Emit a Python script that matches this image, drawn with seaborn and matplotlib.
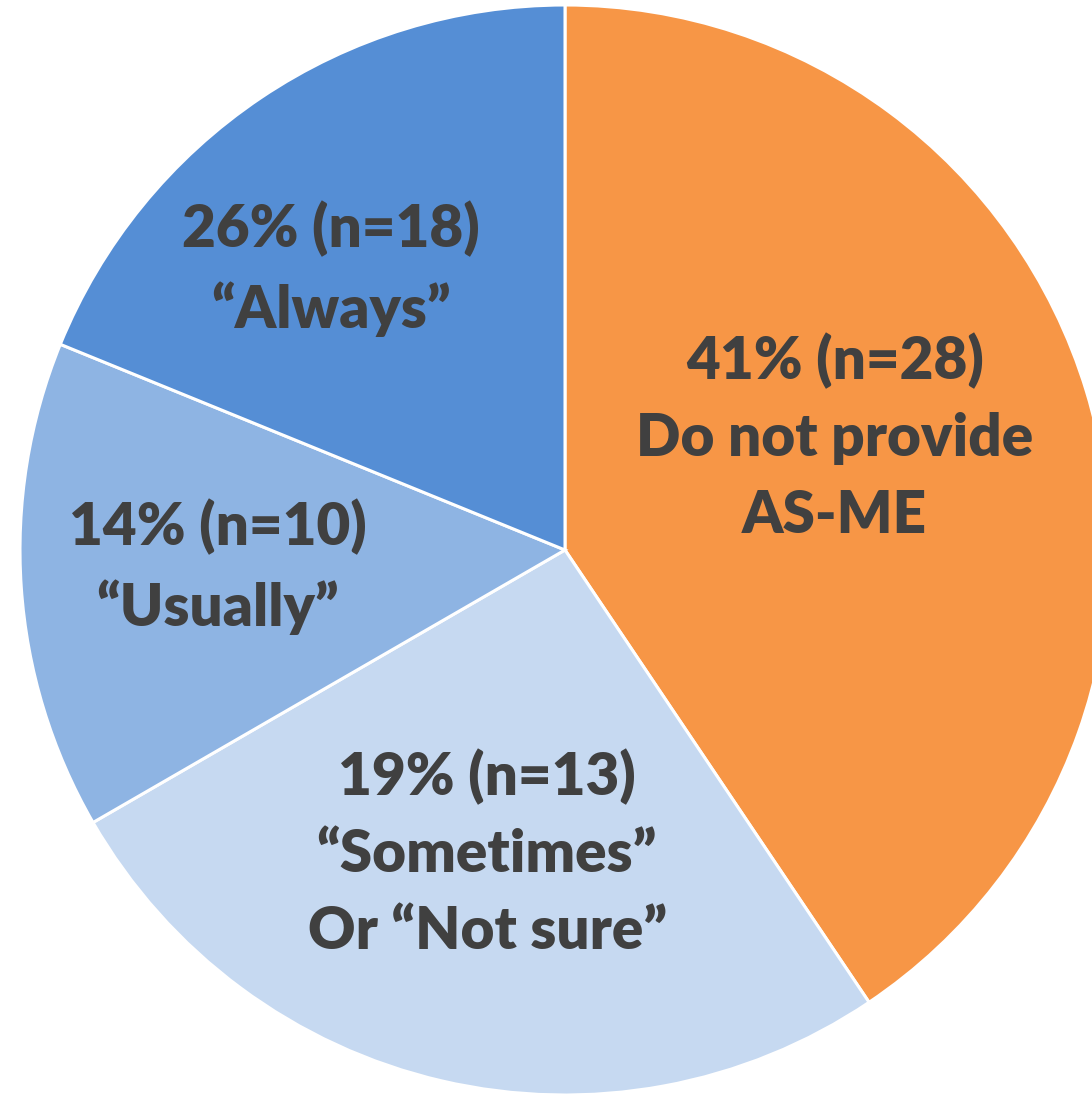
import matplotlib
matplotlib.use("Agg")
import matplotlib.pyplot as plt
import seaborn as sns

# Wedge sizes as drawn (clockwise from 12 o'clock)
wedge_sizes = [28, 18, 10, 13]
wedge_colors = ["#F79646", "#C6D9F1", "#8EB4E3", "#558ED5"]
label_texts = [
    "41% (n=28)\nDo not provide\nAS-ME",
    "19% (n=13)\n\u201cSometimes\u201d\nOr \u201cNot sure\u201d",
    "14% (n=10)\n\u201cUsually\u201d",
    "26% (n=18)\n\u201cAlways\u201d",
]
label_pos = [(0.495, 0.207), (-0.143, -0.556), (-0.637, -0.031), (-0.429, 0.516)]

sns.set_theme(style="white")
plt.rcParams['font.family'] = ['Lato', 'DejaVu Sans']

W, H = 1092, 1094
fig = plt.figure(figsize=(W / 100, H / 100), dpi=100)
ax = fig.add_axes([0, 0, 1, 1])
ax.pie(wedge_sizes, colors=wedge_colors, startangle=90, counterclock=False,
       radius=1.0, wedgeprops=dict(edgecolor="white", linewidth=2.2))

scale = 545.0
cx, cy = 565.0, 550.0
ax.set_aspect('auto')
ax.set_xlim(-cx / scale, (W - cx) / scale)
ax.set_ylim(-(H - cy) / scale, cy / scale)
ax.axis('off')

for txt, (x, y) in zip(label_texts, label_pos):
    ax.text(x, y, txt, ha="center", va="center", fontsize=42, fontweight="heavy",
            color="#404040", linespacing=1.53)

fig.savefig("out.png", dpi=100, facecolor="white")
